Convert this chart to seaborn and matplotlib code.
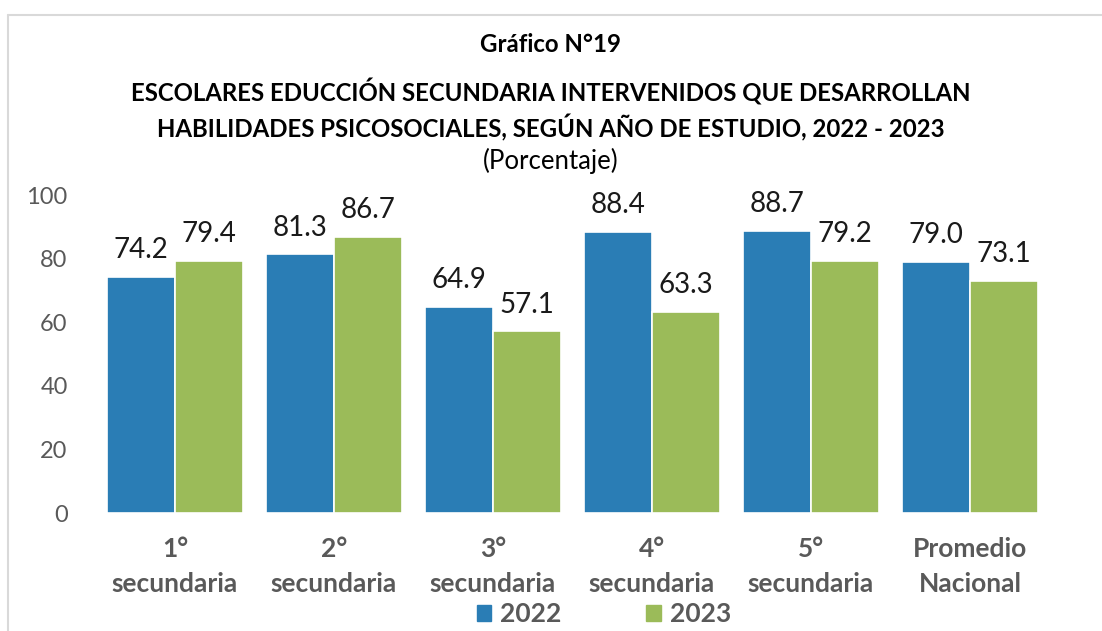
import matplotlib
matplotlib.use("Agg")
import matplotlib.pyplot as plt
import seaborn as sns
import pandas as pd
from matplotlib.patches import Rectangle
from matplotlib.lines import Line2D

categories = ["1°\nsecundaria", "2°\nsecundaria", "3°\nsecundaria", "4°\nsecundaria", "5°\nsecundaria", "Promedio\nNacional"]
years = ["2022", "2023"]
values_2022 = [74.2, 81.3, 64.9, 88.4, 88.7, 79.0]
values_2023 = [79.4, 86.7, 57.1, 63.3, 79.2, 73.1]

df = pd.DataFrame({
    "cat": categories * 2,
    "year": [years[0]] * len(categories) + [years[1]] * len(categories),
    "value": values_2022 + values_2023,
})

sns.set_style("white")
plt.rcParams["font.family"] = ["Lato", "DejaVu Sans"]

colors = ["#2A7DB5", "#9BBB59"]
fig = plt.figure(figsize=(11.02, 6.31), dpi=100)
ax = fig.add_axes([95.5 / 1102, (631 - 513) / 631, (1049.5 - 95.5) / 1102, (513 - 195) / 631])

sns.barplot(data=df, x="cat", y="value", hue="year", palette=colors, ax=ax,
            width=0.855, edgecolor="white", linewidth=1.2, legend=False, saturation=1)

for container in ax.containers:
    ax.bar_label(container, fmt="%.1f", padding=10, fontsize=20, color="#1a1a1a")

ax.set_ylim(0, 100)
ax.set_yticks(range(0, 101, 20))
ax.tick_params(axis="y", labelsize=17, labelcolor="#595959", length=0, pad=20)
ax.tick_params(axis="x", labelsize=19, labelcolor="#595959", length=0, pad=17)
for lbl in ax.get_xticklabels():
    lbl.set_fontweight("bold")
    lbl.set_linespacing(1.55)
ax.set_xlabel("")
ax.set_ylabel("")
for s in ax.spines.values():
    s.set_visible(False)

# Titles
fig.text(0.5, 1 - 45 / 631, "Gráfico N°19", ha="center", va="center", fontsize=17.3, fontweight="bold", color="black")
fig.text(0.5, 1 - 92 / 631, "ESCOLARES EDUCCIÓN SECUNDARIA INTERVENIDOS QUE DESARROLLAN", ha="center", va="center",
         fontsize=17.3, fontweight="bold", color="black")
fig.text(0.5, 1 - 128 / 631, "HABILIDADES PSICOSOCIALES, SEGÚN AÑO DE ESTUDIO, 2022 - 2023", ha="center", va="center",
         fontsize=17.3, fontweight="bold", color="black")
fig.text(0.5, 1 - 161 / 631, "(Porcentaje)", ha="center", va="center", fontsize=18.5, color="black")

# Legend
handles = [Rectangle((0, 0), 1, 1, color=c) for c in colors]
leg = fig.legend(handles, years, loc="center", bbox_to_anchor=(604 / 1102, 1 - 614 / 631), ncol=2, frameon=False,
                 prop={"size": 19, "weight": "bold"}, handlelength=0.55, handleheight=0.55,
                 columnspacing=3.2, handletextpad=0.35, borderaxespad=0, borderpad=0)
for t in leg.get_texts():
    t.set_color("#595959")

# Frame lines (outer chart border)
fig.add_artist(Line2D([8 / 1102, 1], [1 - 15 / 631, 1 - 15 / 631], color="#d9d9d9", linewidth=1.5, transform=fig.transFigure))
fig.add_artist(Line2D([8 / 1102, 8 / 1102], [0, 1 - 15 / 631], color="#d9d9d9", linewidth=1.5, transform=fig.transFigure))

fig.savefig("out.png", dpi=100)
